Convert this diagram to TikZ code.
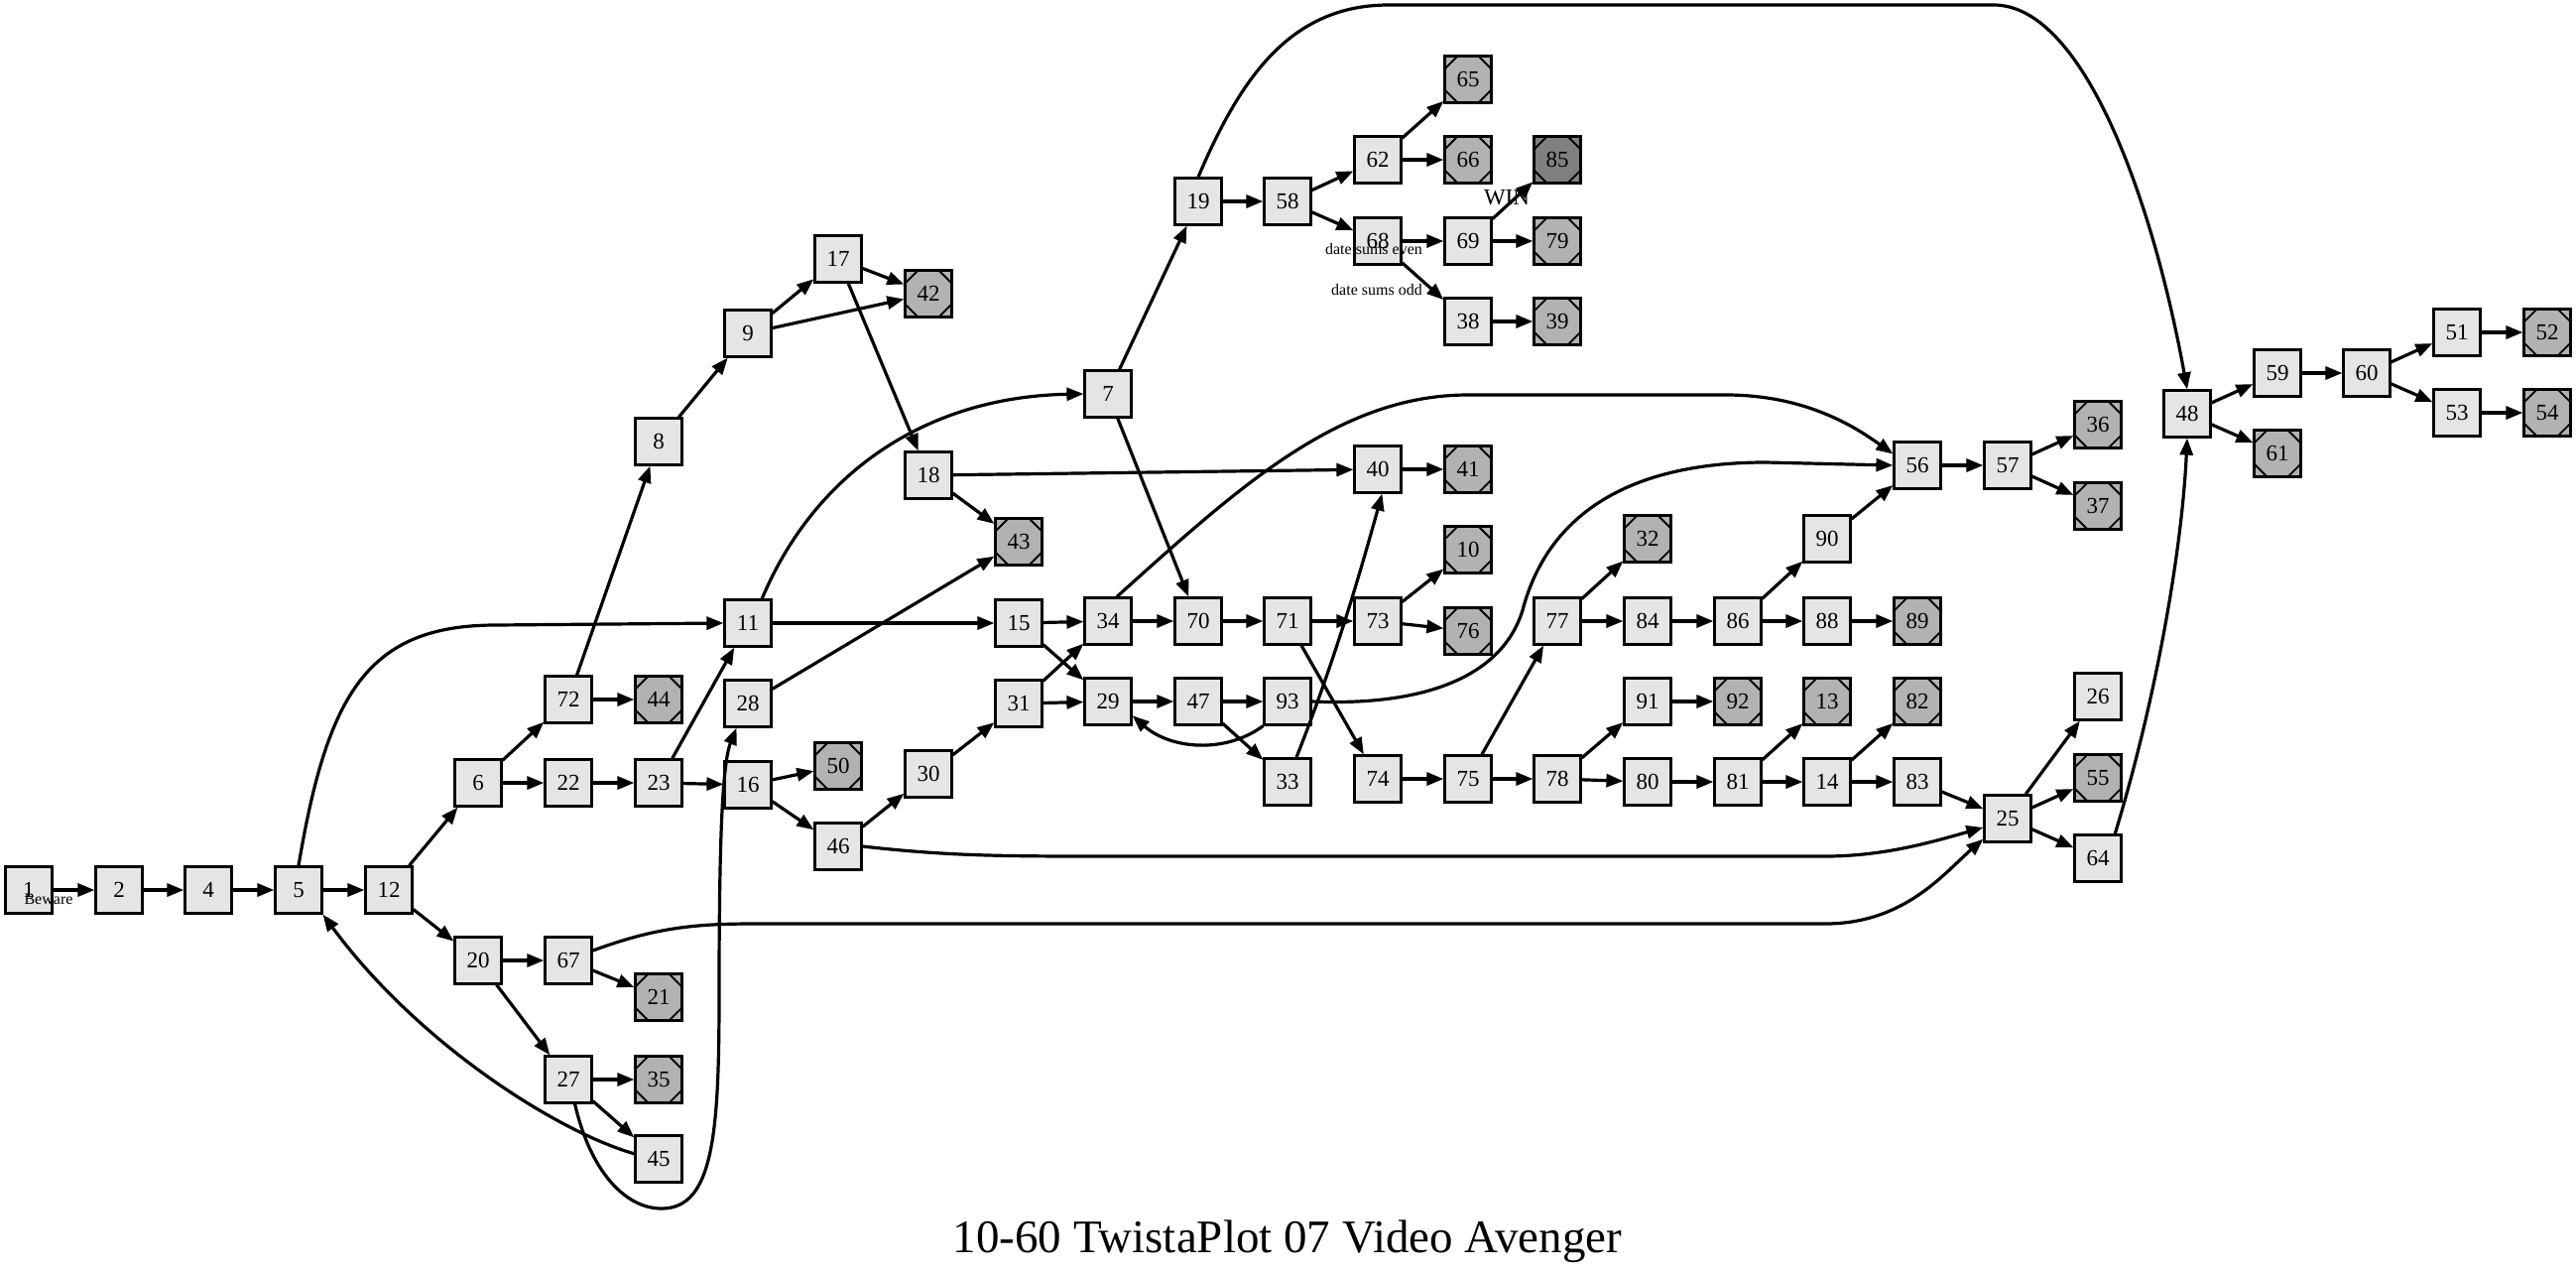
\documentclass[tikz,border=0pt]{standalone}
\usepackage{fontspec}
\setmainfont{Liberation Serif}
\usetikzlibrary{arrows.meta}

\begin{document}
\begin{tikzpicture}[x=1pt, y=-1pt,
	caja/.style={draw, line width=2.2pt, fill=black!10, minimum size=47pt, inner sep=0pt, font=\fontsize{23}{23}\selectfont},
	final/.style={caja, fill=black!30, path picture={
			\draw[line width=1.8pt]
			([xshift=13pt]path picture bounding box.north west) -- ([yshift=-13pt]path picture bounding box.north west)
			([xshift=-13pt]path picture bounding box.north east) -- ([yshift=-13pt]path picture bounding box.north east)
			([xshift=13pt]path picture bounding box.south west) -- ([yshift=13pt]path picture bounding box.south west)
			([xshift=-13pt]path picture bounding box.south east) -- ([yshift=13pt]path picture bounding box.south east);}},
	ganar/.style={final, fill=black!50},
	flecha/.style={line width=3.2pt, -{Triangle[length=17pt, width=13pt]}},
	nota/.style={font=\fontsize{16}{16}\selectfont, inner sep=0pt}]
	
	% Lienzo con las proporciones de la figura original
	\useasboundingbox (0,0) rectangle (2597,1283);
	
	% --- 1. INICIO ---
	\node[caja] (n1) at (29,897) {1};
	\node[caja] (n2) at (120,897) {2};
	\node[caja] (n4) at (210,897) {4};
	\node[caja] (n5) at (301,897) {5};
	\node[caja] (n12) at (392,897) {12};
	\node[caja] (n6) at (482,789) {6};
	\node[caja] (n20) at (482,968) {20};
	\node[caja] (n72) at (573,705) {72};
	\node[caja] (n22) at (573,789) {22};
	\node[caja] (n67) at (573,968) {67};
	\node[caja] (n27) at (573,1088) {27};
	\node[caja] (n8) at (664,445) {8};
	\node[final] (n44) at (664,705) {44};
	\node[caja] (n23) at (664,789) {23};
	\node[final] (n21) at (664,1005) {21};
	\node[final] (n35) at (664,1088) {35};
	\node[caja] (n45) at (664,1168) {45};
	
	% --- 2. ZONA CENTRAL ---
	\node[caja] (n9) at (754,336) {9};
	\node[caja] (n11) at (754,628) {11};
	\node[caja] (n28) at (754,709) {28};
	\node[caja] (n16) at (754,791) {16};
	\node[caja] (n17) at (845,261) {17};
	\node[final] (n50) at (845,772) {50};
	\node[caja] (n46) at (845,853) {46};
	\node[final] (n42) at (936,296) {42};
	\node[caja] (n18) at (936,479) {18};
	\node[caja] (n30) at (936,780) {30};
	\node[final] (n43) at (1027,546) {43};
	\node[caja] (n15) at (1027,628) {15};
	\node[caja] (n31) at (1027,709) {31};
	\node[caja] (n7) at (1117,397) {7};
	\node[caja] (n34) at (1117,626) {34};
	\node[caja] (n29) at (1117,707) {29};
	\node[caja] (n19) at (1208,203) {19};
	\node[caja] (n70) at (1208,626) {70};
	\node[caja] (n47) at (1208,707) {47};
	\node[caja] (n58) at (1298,203) {58};
	\node[caja] (n71) at (1298,626) {71};
	\node[caja] (n93) at (1298,707) {93};
	\node[caja] (n33) at (1298,788) {33};
	\node[caja] (n62) at (1389,161) {62};
	\node[caja] (n68) at (1389,243) {68};
	\node[caja] (n40) at (1389,473) {40};
	\node[caja] (n73) at (1389,626) {73};
	\node[caja] (n74) at (1389,785) {74};
	\node[final] (n65) at (1480,80) {65};
	\node[final] (n66) at (1480,161) {66};
	\node[caja] (n69) at (1480,243) {69};
	\node[caja] (n38) at (1480,324) {38};
	\node[final] (n41) at (1480,473) {41};
	\node[final] (n10) at (1480,554) {10};
	\node[final] (n76) at (1480,636) {76};
	\node[caja] (n75) at (1480,785) {75};
	\node[ganar] (n85) at (1570,161) {85};
	\node[final] (n79) at (1570,243) {79};
	\node[final] (n39) at (1570,324) {39};
	\node[caja] (n77) at (1570,626) {77};
	\node[caja] (n78) at (1570,785) {78};
	\node[final] (n32) at (1661,543) {32};
	\node[caja] (n84) at (1661,626) {84};
	\node[caja] (n91) at (1661,707) {91};
	\node[caja] (n80) at (1661,788) {80};
	\node[caja] (n86) at (1752,626) {86};
	\node[final] (n92) at (1752,707) {92};
	\node[caja] (n81) at (1752,788) {81};
	\node[caja] (n90) at (1842,543) {90};
	\node[caja] (n88) at (1842,626) {88};
	\node[final] (n13) at (1842,707) {13};
	\node[caja] (n14) at (1842,788) {14};
	
	% --- 3. FINAL ---
	\node[caja] (n56) at (1933,469) {56};
	\node[final] (n89) at (1933,626) {89};
	\node[final] (n82) at (1933,707) {82};
	\node[caja] (n83) at (1933,788) {83};
	\node[caja] (n57) at (2024,469) {57};
	\node[caja] (n25) at (2024,825) {25};
	\node[final] (n36) at (2115,428) {36};
	\node[final] (n37) at (2115,510) {37};
	\node[caja] (n26) at (2115,702) {26};
	\node[final] (n55) at (2115,784) {55};
	\node[caja] (n64) at (2115,865) {64};
	\node[caja] (n48) at (2205,417) {48};
	\node[caja] (n59) at (2296,376) {59};
	\node[final] (n61) at (2296,457) {61};
	\node[caja] (n60) at (2386,376) {60};
	\node[caja] (n51) at (2477,335) {51};
	\node[caja] (n53) at (2477,416) {53};
	\node[final] (n52) at (2568,335) {52};
	\node[final] (n54) at (2568,416) {54};
	
	% --- 4. FLECHAS RECTAS ---
	\draw[flecha] (n1) -- (n2);
	\draw[flecha] (n2) -- (n4);
	\draw[flecha] (n4) -- (n5);
	\draw[flecha] (n5) -- (n12);
	\draw[flecha] (n12) -- (n6);
	\draw[flecha] (n12) -- (n20);
	\draw[flecha] (n6) -- (n72);
	\draw[flecha] (n6) -- (n22);
	\draw[flecha] (n72) -- (n8);
	\draw[flecha] (n72) -- (n44);
	\draw[flecha] (n22) -- (n23);
	\draw[flecha] (n23) -- (n11);
	\draw[flecha] (n23) -- (n16);
	\draw[flecha] (n20) -- (n67);
	\draw[flecha] (n20) -- (n27);
	\draw[flecha] (n67) -- (n21);
	\draw[flecha] (n27) -- (n35);
	\draw[flecha] (n27) -- (n45);
	\draw[flecha] (n8) -- (n9);
	\draw[flecha] (n9) -- (n17);
	\draw[flecha] (n9) -- (n42);
	\draw[flecha] (n17) -- (n42);
	\draw[flecha] (n17) -- (n18);
	\draw[flecha] (n18) -- (n40);
	\draw[flecha] (n18) -- (n43);
	\draw[flecha] (n11) -- (n15);
	\draw[flecha] (n28) -- (n43);
	\draw[flecha] (n16) -- (n50);
	\draw[flecha] (n16) -- (n46);
	\draw[flecha] (n46) -- (n30);
	\draw[flecha] (n30) -- (n31);
	\draw[flecha] (n31) -- (n34);
	\draw[flecha] (n31) -- (n29);
	\draw[flecha] (n15) -- (n34);
	\draw[flecha] (n15) -- (n29);
	\draw[flecha] (n7) -- (n19);
	\draw[flecha] (n7) -- (n70);
	\draw[flecha] (n34) -- (n70);
	\draw[flecha] (n29) -- (n47);
	\draw[flecha] (n47) -- (n93);
	\draw[flecha] (n47) -- (n33);
	\draw[flecha] (n19) -- (n58);
	\draw[flecha] (n58) -- (n62);
	\draw[flecha] (n58) -- (n68);
	\draw[flecha] (n62) -- (n65);
	\draw[flecha] (n62) -- (n66);
	\draw[flecha] (n68) -- (n69);
	\draw[flecha] (n68) -- (n38);
	\draw[flecha] (n69) -- (n85);
	\draw[flecha] (n69) -- (n79);
	\draw[flecha] (n38) -- (n39);
	\draw[flecha] (n70) -- (n71);
	\draw[flecha] (n71) -- (n73);
	\draw[flecha] (n71) -- (n74);
	\draw[flecha] (n73) -- (n10);
	\draw[flecha] (n73) -- (n76);
	\draw[flecha] (n40) -- (n41);
	\draw[flecha] (n74) -- (n75);
	\draw[flecha] (n75) -- (n77);
	\draw[flecha] (n75) -- (n78);
	\draw[flecha] (n77) -- (n32);
	\draw[flecha] (n77) -- (n84);
	\draw[flecha] (n84) -- (n86);
	\draw[flecha] (n86) -- (n90);
	\draw[flecha] (n86) -- (n88);
	\draw[flecha] (n88) -- (n89);
	\draw[flecha] (n90) -- (n56);
	\draw[flecha] (n78) -- (n91);
	\draw[flecha] (n78) -- (n80);
	\draw[flecha] (n91) -- (n92);
	\draw[flecha] (n80) -- (n81);
	\draw[flecha] (n81) -- (n13);
	\draw[flecha] (n81) -- (n14);
	\draw[flecha] (n14) -- (n82);
	\draw[flecha] (n14) -- (n83);
	\draw[flecha] (n83) -- (n25);
	\draw[flecha] (n56) -- (n57);
	\draw[flecha] (n57) -- (n36);
	\draw[flecha] (n57) -- (n37);
	\draw[flecha] (n25) -- (n26);
	\draw[flecha] (n25) -- (n55);
	\draw[flecha] (n25) -- (n64);
	\draw[flecha] (n48) -- (n59);
	\draw[flecha] (n48) -- (n61);
	\draw[flecha] (n59) -- (n60);
	\draw[flecha] (n60) -- (n51);
	\draw[flecha] (n60) -- (n53);
	\draw[flecha] (n51) -- (n52);
	\draw[flecha] (n53) -- (n54);
	
	% --- 5. FLECHAS CURVAS ---
	\draw[flecha] (n5.north) .. controls (330,700) and (370,630) .. (500,630) -- (n11.west);
	\draw[flecha] (n11.60) .. controls (820,480) and (930,400) .. (n7.west);
	\draw[flecha] (n27.-75) .. controls (595,1180) and (630,1218) .. (667,1218)
	.. controls (720,1218) and (725,1140) .. (725,1000)
	.. controls (725,850) and (728,770) .. (n28.-115);
	\draw[flecha] (n45.168) .. controls (560,1140) and (420,1050) .. (n5.south east);
	\draw[flecha] (n67.22) .. controls (660,935) and (700,931) .. (760,931) -- (1840,931)
	.. controls (1920,931) and (1960,880) .. (n25.-140);
	\draw[flecha] (n46.east) .. controls (950,862) and (1000,863) .. (1100,863) -- (1840,863)
	.. controls (1900,863) and (1950,848) .. (n25.-160);
	\draw[flecha] (n34.70) .. controls (1250,490) and (1350,398) .. (1480,398) -- (1740,398)
	.. controls (1820,398) and (1870,430) .. (n56.155);
	\draw[flecha] (n93.east) .. controls (1440,712) and (1515,680) .. (1535,615)
	.. controls (1560,520) and (1640,466) .. (1780,466) -- (n56.west);
	\draw[flecha] (n93.south west) .. controls (1235,760) and (1180,755) .. (n29.-30);
	\draw[flecha] (n33.70) .. controls (1340,680) and (1365,600) .. (n40.-80);
	\draw[flecha] (n19.north) .. controls (1250,80) and (1300,5) .. (1400,5) -- (2010,5)
	.. controls (2100,5) and (2170,200) .. (n48.north);
	\draw[flecha] (n64.55) .. controls (2175,700) and (2200,550) .. (n48.south);
	
	% --- 6. TEXTOS ---
	\node[nota] (beware) at (49,906) {Beware};
	\node[nota] (par) at (1385,251) {date sums even};
	\node[nota] (impar) at (1388,292) {date sums odd};
	\node[font=\fontsize{23}{23}\selectfont, inner sep=0pt] (win) at (1519,199) {WIN};
	\node[font=\fontsize{47}{47}\selectfont, anchor=base, inner sep=0pt] (titulo) at (1298,1262) {10-60 TwistaPlot 07 Video Avenger};
	
\end{tikzpicture}
\end{document}
